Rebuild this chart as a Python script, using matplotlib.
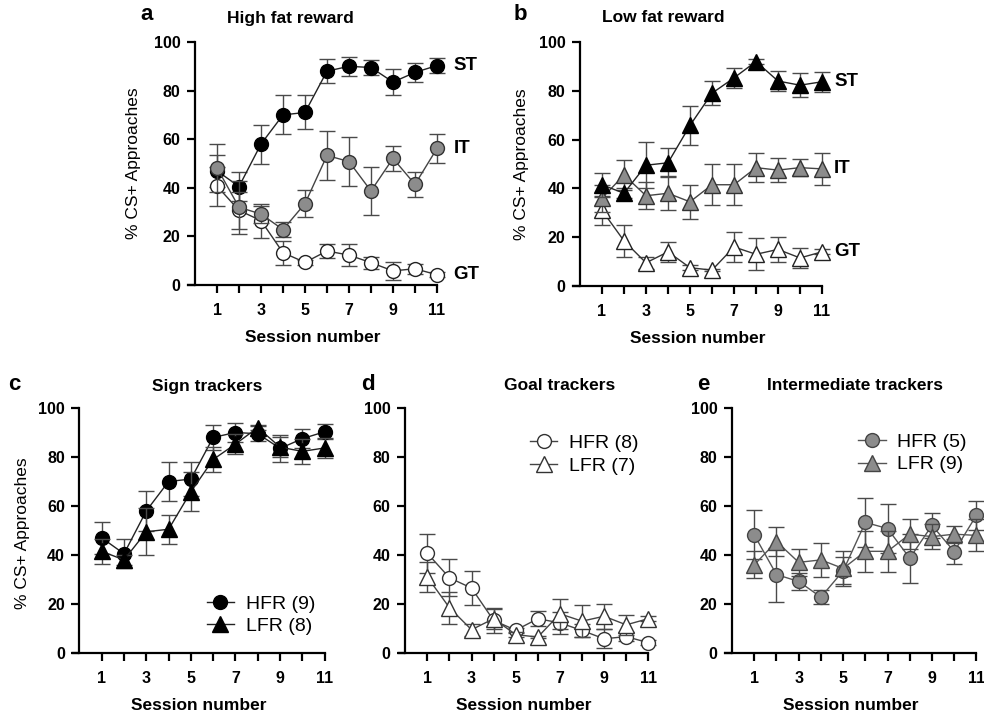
import numpy as np
import matplotlib
matplotlib.use("Agg")
import matplotlib.pyplot as plt

plt.rcParams['font.family'] = ['Liberation Sans', 'DejaVu Sans']

# ---- data ----
sessions = np.arange(1, 12)

hfr_st = [47, 40.5, 58, 70, 71, 88, 90, 89.5, 83.5, 87.5, 90.3]
hfr_st_err = [6.5, 6, 8, 8, 7, 5, 4, 3, 5.5, 4, 3]
hfr_it = [48.2, 32, 29.2, 22.8, 33.5, 53.3, 50.8, 38.7, 52.1, 41.4, 56.2]
hfr_it_err = [10, 11, 3.5, 3, 5.5, 10, 10, 10, 5, 5, 6]
hfr_gt = [40.7, 30.7, 26.5, 13.3, 9.3, 14, 12.3, 9.2, 5.8, 6.7, 4.2]
hfr_gt_err = [8, 7.5, 7, 5, 1, 3, 4.5, 2.5, 3.8, 2, 1]

lfr_st = [41.5, 38, 49.5, 50.5, 65.8, 79, 85.3, 92, 84, 82.3, 83.7]
lfr_st_err = [5, 2, 9.5, 6, 8, 5, 4, 1, 4, 5, 4]
lfr_it = [36, 45.5, 37, 38, 34.5, 41.5, 41.5, 48.5, 47.5, 48.5, 48]
lfr_it_err = [5.5, 6, 5.5, 7, 7, 8.5, 8.5, 6, 5, 3.5, 6.5]
lfr_gt = [31, 18.5, 9.5, 14, 7.5, 6.5, 16, 13, 15, 11.5, 14]
lfr_gt_err = [6, 6.5, 2.5, 4, 1, 0.5, 6, 6.5, 5, 4, 1]

W, H = 984, 716
fig = plt.figure(figsize=(W / 100, H / 100), dpi=100)

GRAY = '#8c8c8c'
ECOL = '#4a4a4a'


def px_axes(x0, top, width, bottom):
    return fig.add_axes([x0 / W, 1 - bottom / H, width / W, (bottom - top) / H])


def style(ax, ylab_pos=None):
    ax.set_xlim(-0.3, 11)
    ax.set_ylim(0, 100)
    ax.spines['top'].set_visible(False)
    ax.spines['right'].set_visible(False)
    ax.spines['left'].set_position(('data', 0))
    ax.spines['left'].set_linewidth(1.6)
    ax.spines['bottom'].set_linewidth(1.6)
    ax.set_xticks(range(1, 12, 2))
    ax.set_xticks(range(2, 11, 2), minor=True)
    ax.set_yticks(range(0, 101, 20))
    ax.tick_params(axis='both', which='both', direction='out', width=1.6)
    ax.tick_params(axis='x', which='both', length=6, pad=7)
    ax.tick_params(axis='y', length=5.5, pad=5)
    for lab in ax.get_xticklabels() + ax.get_yticklabels():
        lab.set_fontweight('bold')
        lab.set_fontsize(11.5)
    ax.set_xlabel('Session number', fontsize=12.5, fontweight='bold')
    ax.xaxis.set_label_coords(0.5, -0.185)
    if ylab_pos is not None:
        ax.set_ylabel('% CS+ Approaches', fontsize=12.5)
        ax.yaxis.set_label_coords(*ylab_pos)


def series(ax, y, err, marker, face, edge, lcol, label=None, z=3):
    ax.errorbar(sessions, y, yerr=err, fmt='none', ecolor=ECOL, elinewidth=1,
                capsize=6, capthick=1, zorder=z - 0.5, clip_on=False)
    ax.plot(sessions, y, marker=marker, ms=10 if marker == 'o' else 11,
            mfc=face, mec=edge, mew=1, color=lcol, lw=1, zorder=z,
            clip_on=False, label=label)


def legend(ax, ypos):
    ax.legend(loc='center right', bbox_to_anchor=(1.0, ypos), frameon=False,
              fontsize=14, handlelength=1.4, handletextpad=0.6, labelspacing=0.25,
              borderpad=0, numpoints=1)


# ---- panel a ----
ax = px_axes(188.4, 42, 248.6, 285)
style(ax, ylab_pos=(-0.19, 0.5))
series(ax, hfr_st, hfr_st_err, 'o', 'black', 'black', '#222222', z=3)
series(ax, hfr_gt, hfr_gt_err, 'o', 'white', '#222222', '#333333', z=4)
series(ax, hfr_it, hfr_it_err, 'o', GRAY, '#333333', '#444444', z=5)
for lab, yv in zip(['ST', 'IT', 'GT'], [hfr_st[-1], hfr_it[-1], hfr_gt[-1]]):
    ax.text(11.75, yv, lab, fontsize=13.5, fontweight='bold', va='center', ha='left')

# ---- panel b ----
ax = px_axes(573.4, 42, 248.6, 286)
style(ax, ylab_pos=(-0.18, 0.5))
series(ax, lfr_gt, lfr_gt_err, '^', 'white', '#222222', '#333333', z=3)
series(ax, lfr_it, lfr_it_err, '^', GRAY, '#333333', '#444444', z=4)
series(ax, lfr_st, lfr_st_err, '^', 'black', 'black', '#222222', z=5)
for lab, yv in zip(['ST', 'IT', 'GT'], [lfr_st[-1], lfr_it[-1], lfr_gt[-1]]):
    ax.text(11.55, yv, lab, fontsize=13.5, fontweight='bold', va='center', ha='left')

# ---- panel c ----
ax = px_axes(72.7, 408, 252, 653)
style(ax, ylab_pos=(-0.17, 0.49))
series(ax, hfr_st, hfr_st_err, 'o', 'black', 'black', '#222222', 'HFR (9)', z=3)
series(ax, lfr_st, lfr_st_err, '^', 'black', 'black', '#222222', 'LFR (8)', z=4)
legend(ax, 0.155)

# ---- panel d ----
ax = px_axes(398.6, 408, 249.7, 653)
style(ax)
series(ax, hfr_gt, hfr_gt_err, 'o', 'white', '#333333', '#444444', 'HFR (8)', z=3)
series(ax, lfr_gt, lfr_gt_err, '^', 'white', '#333333', '#444444', 'LFR (7)', z=4)
legend(ax, 0.81)

# ---- panel e ----
ax = px_axes(725.4, 408, 251, 653)
style(ax)
series(ax, hfr_it, hfr_it_err, 'o', GRAY, '#444444', '#555555', 'HFR (5)', z=3)
series(ax, lfr_it, lfr_it_err, '^', GRAY, '#444444', '#555555', 'LFR (9)', z=4)
legend(ax, 0.815)

# ---- panel letters and titles ----
letters = [('a', 147, 15), ('b', 520, 15), ('c', 14, 384), ('d', 368, 384), ('e', 703, 384)]
for t, x, y in letters:
    fig.text(x / W, 1 - y / H, t, fontsize=16, fontweight='bold', ha='center', va='center')
titles = [('High fat reward', 290, 18), ('Low fat reward', 663, 18),
          ('Sign trackers', 207, 386), ('Goal trackers', 560, 386),
          ('Intermediate trackers', 855, 386)]
for t, x, y in titles:
    fig.text(x / W, 1 - y / H, t, fontsize=12.5, fontweight='bold', ha='center', va='center')

fig.savefig('out.png', dpi=100)
